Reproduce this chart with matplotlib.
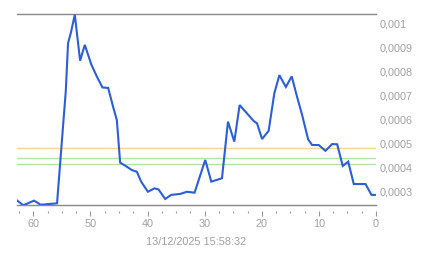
import matplotlib
matplotlib.use("Agg")
import matplotlib.pyplot as plt
from matplotlib.ticker import FixedLocator, FixedFormatter, MultipleLocator

# ---- data (x = units before timestamp, y = value) ----
x_vals = [62.81, 61.76, 59.88, 58.71, 55.85, 54.32, 53.92, 53.44, 52.74, 51.81,
          50.99, 49.83, 48.89, 47.90, 46.90, 45.98, 45.38, 44.80, 43.63, 42.75,
          41.87, 41.12, 39.94, 38.79, 38.09, 36.91, 35.86, 34.28, 33.10, 31.77,
          29.90, 28.84, 26.97, 25.92, 24.81, 23.88, 21.43, 20.83, 19.95, 18.80,
          17.80, 16.92, 15.78, 14.76, 13.82, 12.94, 11.89, 11.19, 10.03, 8.85,
          7.68, 6.80, 5.82, 4.87, 3.89, 1.84, 0.79, 0.0]
y_vals = [0.000264, 0.000245, 0.000264, 0.000247, 0.000253, 0.000719, 0.000918, 0.000960, 0.001036, 0.000845,
          0.000911, 0.000828, 0.000780, 0.000734, 0.000732, 0.000649, 0.000599, 0.000422, 0.000405, 0.000391,
          0.000384, 0.000343, 0.000301, 0.000315, 0.000311, 0.000271, 0.000288, 0.000292, 0.000301, 0.000297,
          0.000433, 0.000343, 0.000357, 0.000592, 0.000509, 0.000661, 0.000595, 0.000585, 0.000520, 0.000554,
          0.000710, 0.000785, 0.000736, 0.000780, 0.000695, 0.000620, 0.000519, 0.000495, 0.000495, 0.000471,
          0.000499, 0.000498, 0.000408, 0.000426, 0.000333, 0.000333, 0.000288, 0.000288]

ref_yellow = [0.000483]
ref_green = [0.000440, 0.000416]

xtick_values = [60, 50, 40, 30, 20, 10, 0]
xtick_labels = ["60", "50", "40", "30", "20", "10", "0"]
ytick_values = [0.001, 0.0009, 0.0008, 0.0007, 0.0006, 0.0005, 0.0004, 0.0003]
ytick_labels = ["0,001", "0,0009", "0,0008", "0,0007", "0,0006", "0,0005", "0,0004", "0,0003"]
x_title = "13/12/2025 15:58:32"

y_min, y_max = 0.000246, 0.001039
x_left, x_right = 62.86, 0.0

plt.rcParams['font.family'] = ['Liberation Sans', 'DejaVu Sans']

fig = plt.figure(figsize=(4.43, 2.58), dpi=100)
ax = fig.add_axes([17/443, 1 - 205/258, 359/443, 191/258])

label_color = "#a0a0a0"
frame_color = "#888888"

for v in ref_yellow:
    ax.axhline(v, color="#f0d68e", lw=1.0, zorder=1)
for v in ref_green:
    ax.axhline(v, color="#b4e2a8", lw=1.0, zorder=1)

ax.plot(x_vals, y_vals, color="#2a5fd8", lw=1.5, zorder=3, solid_joinstyle="miter")

ax.set_xlim(x_left, x_right)
ax.set_ylim(y_min, y_max)

# frame lines
ax.axhline(y_max, color=frame_color, lw=1.0, zorder=2, clip_on=False)
ax.axhline(y_min, color=frame_color, lw=1.0, zorder=2, clip_on=False)
for s in ["left", "right", "top"]:
    ax.spines[s].set_visible(False)
ax.spines["bottom"].set_position(("outward", 4.3))
ax.spines["bottom"].set_color("none")

ax.xaxis.set_major_locator(FixedLocator(xtick_values))
ax.xaxis.set_major_formatter(FixedFormatter(xtick_labels))
ax.xaxis.set_minor_locator(MultipleLocator(2.5))
ax.tick_params(axis="x", which="major", direction="out", length=3.6, width=0.8,
               color="#999999", labelcolor=label_color, labelsize=7.8, pad=2.5)
ax.tick_params(axis="x", which="minor", direction="out", length=1.5, width=0.8,
               color="#999999")

ax.yaxis.tick_right()
ax.yaxis.set_major_locator(FixedLocator(ytick_values))
ax.yaxis.set_major_formatter(FixedFormatter(ytick_labels))
ax.tick_params(axis="y", which="both", length=0, pad=2.5,
               labelcolor=label_color, labelsize=7.8)

ax.set_xlabel(x_title, color=label_color, fontsize=7.8, labelpad=5.5)
ax.patch.set_alpha(0)

fig.savefig("out.png", dpi=100)
